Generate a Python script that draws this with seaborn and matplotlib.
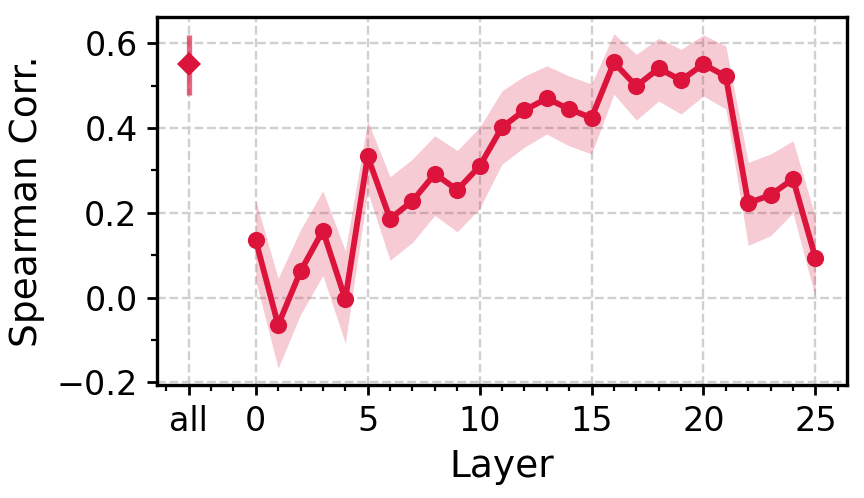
import matplotlib
matplotlib.use("Agg")
import matplotlib.pyplot as plt
from matplotlib.ticker import MultipleLocator, FixedLocator
import seaborn as sns
import pandas as pd

# per-layer spearman correlation, with band bounds
layers = list(range(26))
corr = [0.135, -0.065, 0.062, 0.158, -0.004, 0.333, 0.186, 0.228, 0.292, 0.254,
        0.310, 0.402, 0.442, 0.470, 0.445, 0.424, 0.555, 0.499, 0.541, 0.513,
        0.551, 0.522, 0.223, 0.242, 0.280, 0.094]
corr_lo = [0.040, -0.167, -0.040, 0.052, -0.108, 0.250, 0.088, 0.130, 0.194, 0.155,
           0.210, 0.315, 0.355, 0.386, 0.358, 0.339, 0.480, 0.419, 0.464, 0.433,
           0.476, 0.445, 0.123, 0.146, 0.200, 0.000]
corr_hi = [0.229, 0.045, 0.160, 0.252, 0.110, 0.417, 0.285, 0.327, 0.382, 0.347,
           0.402, 0.488, 0.523, 0.547, 0.523, 0.504, 0.623, 0.574, 0.612, 0.586,
           0.620, 0.594, 0.319, 0.339, 0.370, 0.190]

# all layers combined
all_x = -3
all_corr = 0.552
all_lo = 0.478
all_hi = 0.621

xtick_pos = [-3, 0, 5, 10, 15, 20, 25]
xtick_labels = ["all", "0", "5", "10", "15", "20", "25"]

color = "#DC143C"

sns.set_style("white")
plt.rcParams["font.family"] = ["DejaVu Sans"]
plt.rcParams["text.color"] = "black"
plt.rcParams["axes.labelcolor"] = "black"
plt.rcParams["xtick.color"] = "black"
plt.rcParams["ytick.color"] = "black"

df = pd.DataFrame({"layer": layers, "corr": corr})

fig, ax = plt.subplots(figsize=(4.32, 2.49), dpi=200)
fig.subplots_adjust(left=0.182, right=0.980, top=0.966, bottom=0.227)

ax.fill_between(layers, corr_lo, corr_hi, color=color, alpha=0.22, linewidth=0)
sns.lineplot(data=df, x="layer", y="corr", ax=ax, color=color, linewidth=2.1,
             marker="o", markersize=6.2, markeredgewidth=0)

ax.vlines(all_x, all_lo, all_hi, color=color, alpha=0.65, linewidth=1.9)
ax.plot([all_x], [all_corr], marker="D", markersize=6.2, color=color,
        markeredgewidth=0, linestyle="none")

ax.xaxis.set_major_locator(FixedLocator(xtick_pos))
ax.set_xticklabels(xtick_labels)
ax.xaxis.set_minor_locator(MultipleLocator(1))
ax.yaxis.set_major_locator(MultipleLocator(0.2))
ax.yaxis.set_minor_locator(MultipleLocator(0.1))

ax.grid(True, which="major", linestyle="--", color="#d0d0d0", linewidth=0.85)
ax.set_axisbelow(True)

ax.tick_params(axis="both", which="major", direction="out", length=3.6, width=1.0,
               labelsize=12, bottom=True, left=True)
ax.tick_params(axis="both", which="minor", direction="out", length=2.0, width=0.8,
               bottom=True, left=True)
for sp in ax.spines.values():
    sp.set_linewidth(1.2)
    sp.set_color("black")

ax.set_xlabel("Layer", fontsize=13.5)
ax.set_ylabel("Spearman Corr.", fontsize=13.5)

fig.savefig("out.png", dpi=200)
